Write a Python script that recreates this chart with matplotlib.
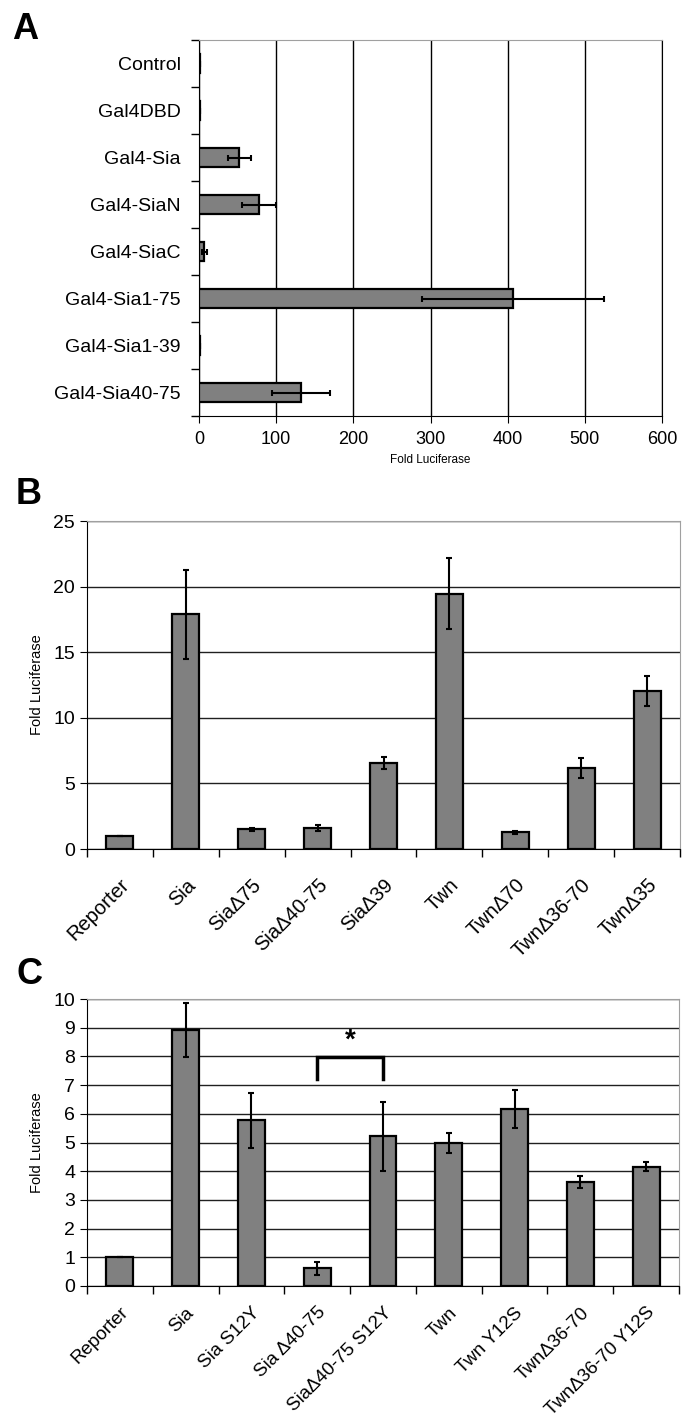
import numpy as np
import matplotlib.pyplot as plt

plt.rcParams['font.family'] = ['Liberation Sans', 'DejaVu Sans']

# panel A: Gal4 fusions, horizontal bars
a_names = ["Control", "Gal4DBD", "Gal4-Sia", "Gal4-SiaN", "Gal4-SiaC",
           "Gal4-Sia1-75", "Gal4-Sia1-39", "Gal4-Sia40-75"]
a_vals = [1, 1, 52, 78, 7, 407, 1, 132]
a_err = [0, 0, 15, 22, 3, 118, 0, 38]

# panel B: deletion constructs
b_names = ["Reporter", "Sia", "SiaΔ75", "SiaΔ40-75", "SiaΔ39", "Twn",
           "TwnΔ70", "TwnΔ36-70", "TwnΔ35"]
b_vals = [1.0, 17.9, 1.5, 1.6, 6.55, 19.45, 1.27, 6.14, 12.05]
b_err = [0, 3.4, 0.12, 0.24, 0.45, 2.7, 0.13, 0.76, 1.12]

# panel C: point mutants
c_names = ["Reporter", "Sia", "Sia S12Y", "Sia Δ40-75", "SiaΔ40-75 S12Y",
           "Twn", "Twn Y12S", "TwnΔ36-70", "TwnΔ36-70 Y12S"]
c_vals = [1.0, 8.92, 5.77, 0.61, 5.21, 4.97, 6.16, 3.61, 4.16]
c_err = [0, 0.95, 0.96, 0.21, 1.2, 0.35, 0.66, 0.21, 0.16]

W, H = 682, 1425
fig = plt.figure(figsize=(W / 100, H / 100), dpi=100)

def box(l, r, t, b):
    return [l / W, 1 - b / H, (r - l) / W, (b - t) / H]

bar_kw = dict(color='#808080', edgecolor='black', linewidth=1.6, zorder=3)
err_kw = dict(ecolor='black', elinewidth=1.5, capsize=2, capthick=1.5)

# ---- A ----
ax = fig.add_axes(box(199, 662, 40, 416))
ya = np.arange(len(a_names))
ax.barh(ya, a_vals, height=0.42, xerr=a_err, error_kw=err_kw, **bar_kw)
ax.set_ylim(len(a_names) - 0.5, -0.5)
ax.set_xlim(0, 600)
ax.set_xticks(np.arange(0, 601, 100))
ax.set_yticks(ya)
ax.set_yticklabels(a_names, fontsize=14)
ax.set_yticks(np.arange(-0.5, len(a_names)), minor=True)
ax.tick_params(axis='y', which='major', length=0, pad=13)
ax.tick_params(axis='y', which='minor', length=6, width=1)
ax.tick_params(axis='x', length=5, labelsize=13, pad=6)
ax.xaxis.grid(True, color='black', linewidth=1)
ax.set_axisbelow(True)
ax.set_xlabel("Fold Luciferase", fontsize=8.5, labelpad=4)
ax.spines['top'].set_color('#a0a0a0')
ax.spines['right'].set_color('black')
fig.text(12 / W, 1 - 12 / H, "A", fontsize=26, fontweight='bold', va='top')

def column_panel(rect, names, vals, err, ymax, step, lab, laby, fs, pad):
    ax = fig.add_axes(rect)
    x = np.arange(len(names))
    ax.bar(x, vals, width=0.41, yerr=err, error_kw=err_kw, **bar_kw)
    ax.set_xlim(-0.5, len(names) - 0.5)
    ax.set_ylim(0, ymax)
    ax.set_yticks(np.arange(0, ymax + 0.1, step))
    ax.yaxis.grid(True, color='#202020', linewidth=1)
    ax.set_axisbelow(True)
    ax.set_xticks(x)
    ax.set_xticklabels(names, rotation=45, ha='right', rotation_mode='anchor',
                       fontsize=fs)
    ax.set_xticks(np.arange(-0.5, len(names)), minor=True)
    ax.tick_params(axis='x', which='major', length=0, pad=pad)
    ax.tick_params(axis='x', which='minor', length=6, width=1)
    ax.tick_params(axis='y', length=5, labelsize=14)
    ax.set_ylabel("Fold Luciferase", fontsize=10.5, labelpad=7)
    ax.spines['top'].set_color('#a0a0a0')
    ax.spines['right'].set_color('#a0a0a0')
    fig.text(16 / W, 1 - laby / H, lab, fontsize=26, fontweight='bold', va='top')
    return ax

column_panel(box(87, 680, 521, 849), b_names, b_vals, b_err, 25, 5, "B", 477,
             14.5, 19)
axc = column_panel(box(87, 679, 999, 1286), c_names, c_vals, c_err, 10, 1, "C",
                   957, 13.5, 13)

# significance bracket between Sia Δ40-75 and SiaΔ40-75 S12Y
axc.plot([3, 3, 4, 4], [7.2, 7.97, 7.97, 7.2], color='black', linewidth=2.5,
         zorder=4, solid_joinstyle='miter')
axc.text(3.5, 8.1, "*", ha='center', va='bottom', fontsize=20, fontweight='bold')

fig.savefig("out.png", dpi=100)
